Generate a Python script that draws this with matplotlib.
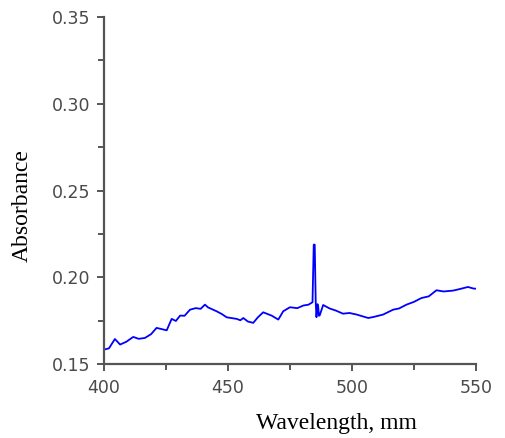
import matplotlib.pyplot as plt
from matplotlib.ticker import MultipleLocator

# values
wavelength = [400, 402, 404.4, 406.5, 409, 411.8, 414, 416.5, 419, 421.2, 423, 425.3,
              427.3, 429, 430.7, 432.5, 434.7, 437, 439, 440.7, 442, 445.4, 447.5, 449.5,
              453.5, 455, 456.2, 458, 460.2, 462, 464.2, 467.6, 470.3, 472.3, 475, 478,
              480.4, 482.5, 484.1, 484.6, 485.0, 485.4, 485.7, 486.1, 486.4, 486.7, 487,
              488.4, 491, 493.5, 496.4, 499, 501.9, 504, 506.6, 509, 512.6, 516.6, 519,
              522, 525, 528, 531, 534.1, 537, 540.8, 543.5, 546.8, 549, 551]
absorbance = [0.1583, 0.159, 0.1644, 0.1612, 0.1628, 0.1656, 0.1645, 0.165, 0.1672, 0.1708,
              0.1702, 0.1694, 0.176, 0.1748, 0.1779, 0.1778, 0.1813, 0.1822, 0.1818, 0.1842,
              0.1826, 0.1804, 0.1788, 0.1769, 0.176, 0.1752, 0.1765, 0.1745, 0.1737, 0.1768,
              0.1798, 0.1779, 0.1756, 0.1804, 0.1827, 0.1822, 0.1837, 0.1842, 0.1856, 0.2188,
              0.2188, 0.1855, 0.177, 0.1845, 0.183, 0.1778, 0.178, 0.184, 0.182, 0.1808,
              0.179, 0.1794, 0.1785, 0.1776, 0.1765, 0.1772, 0.1785, 0.1813, 0.182, 0.1842,
              0.1858, 0.188, 0.189, 0.1925, 0.1918, 0.1923, 0.1932, 0.1944, 0.1935, 0.1933]

fig = plt.figure(figsize=(5.06, 4.38), dpi=100)
ax = fig.add_axes([0.2055, 0.169, 0.735, 0.792])
ax.plot(wavelength, absorbance, color='#0000ff', linewidth=1.3)

ax.set_xlim(400, 550)
ax.set_ylim(0.15, 0.35)
ax.xaxis.set_major_locator(MultipleLocator(50))
ax.xaxis.set_minor_locator(MultipleLocator(25))
ax.yaxis.set_major_locator(MultipleLocator(0.05))
ax.yaxis.set_minor_locator(MultipleLocator(0.025))
ax.yaxis.set_major_formatter(plt.FormatStrFormatter('%.2f'))

for s in ['top', 'right']:
    ax.spines[s].set_visible(False)
for s in ['left', 'bottom']:
    ax.spines[s].set_color('#555555')
    ax.spines[s].set_linewidth(1.6)
ax.tick_params(which='both', direction='out', color='#555555', width=1.4,
               labelsize=12.5, labelcolor='#4a4a4a')
ax.tick_params(which='major', length=5)
ax.tick_params(which='minor', length=4)
ax.tick_params(axis='x', pad=6)
ax.tick_params(axis='y', pad=5)
for lab in ax.get_xticklabels() + ax.get_yticklabels():
    lab.set_family('DejaVu Sans')

ax.set_ylabel('Absorbance', family='Liberation Serif', fontsize=17)
ax.set_xlabel('Wavelength, mm', family='Liberation Serif', fontsize=17)
ax.yaxis.label.set_va('center')
ax.xaxis.label.set_va('center')
ax.yaxis.set_label_coords(-0.22, 0.458)
ax.xaxis.set_label_coords(0.624, -0.173)

fig.savefig('out.png', dpi=100)
